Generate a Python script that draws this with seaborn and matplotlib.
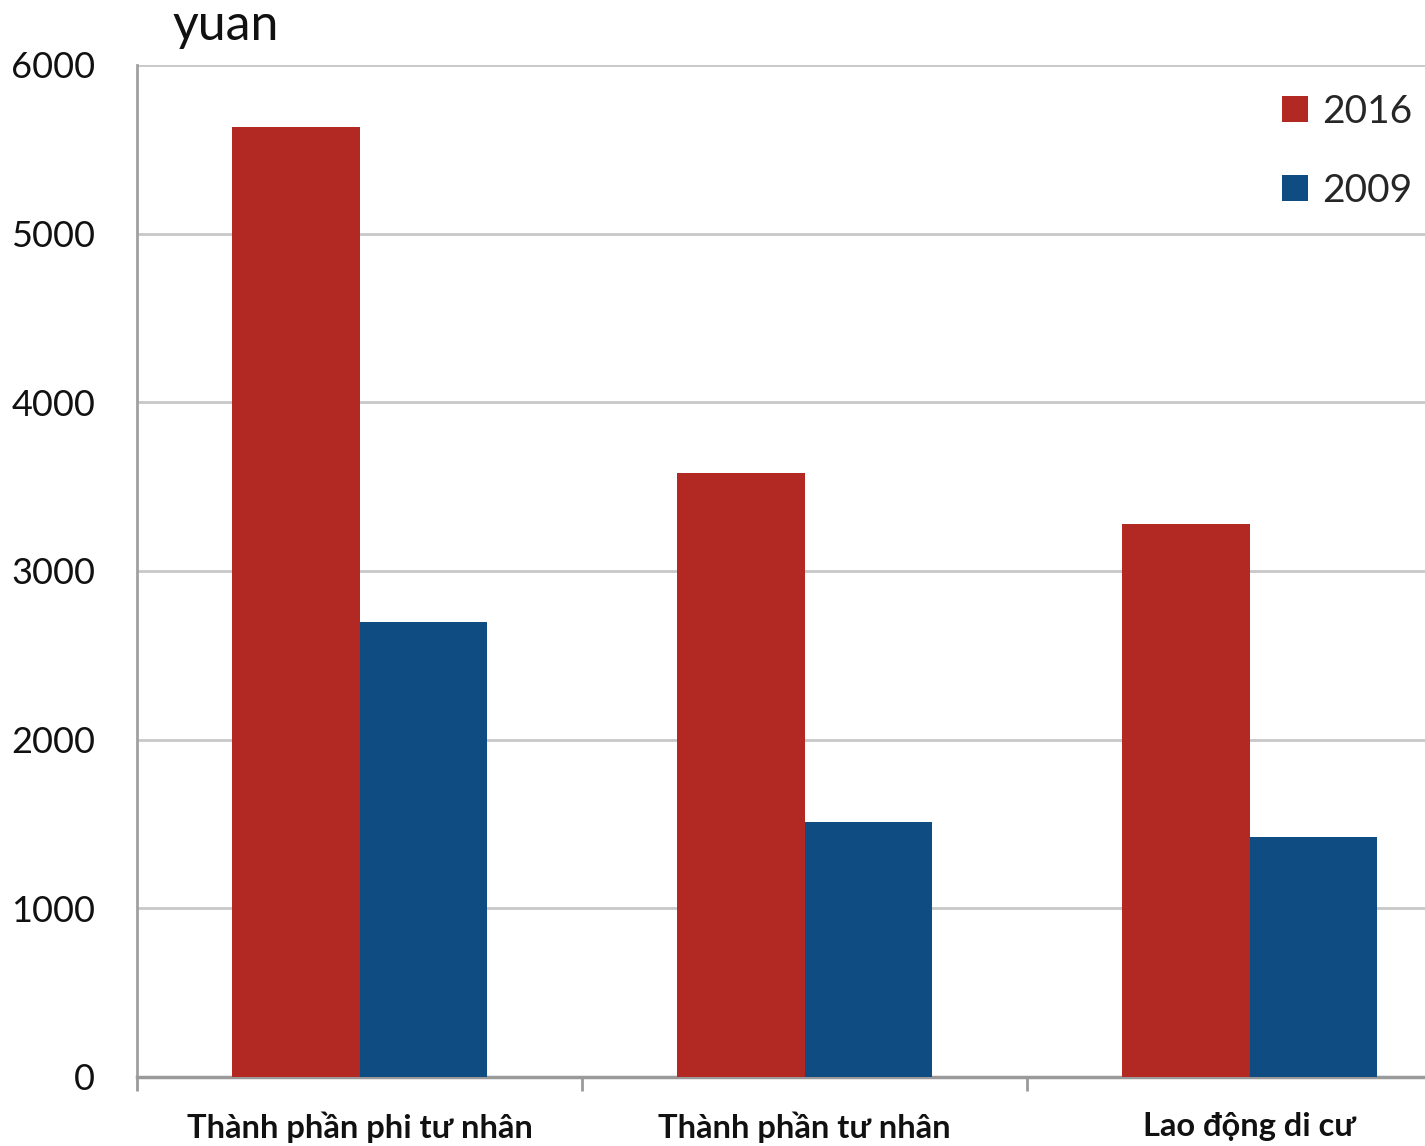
import matplotlib
matplotlib.use("Agg")
import matplotlib.pyplot as plt
import seaborn as sns
import pandas as pd
from matplotlib.patches import Patch

categories = ["Thành phần phi tư nhân", "Thành phần tư nhân", "Lao động di cư"]
years = ["2016", "2009"]
values_2016 = [5630, 3580, 3280]
values_2009 = [2700, 1510, 1420]
yticks = [0, 1000, 2000, 3000, 4000, 5000, 6000]
colors = {"2016": "#B22822", "2009": "#0F4C81"}

df = pd.DataFrame({
    "category": categories * 2,
    "year": ["2016"] * 3 + ["2009"] * 3,
    "value": values_2016 + values_2009,
})

sns.set_theme(style="white")
plt.rcParams["font.family"] = ["Lato", "DejaVu Sans"]

fig = plt.figure(figsize=(14.25, 11.46), dpi=100)
ax = fig.add_axes([137 / 1425, 69 / 1146, 1335 / 1425, 1012 / 1146])

sns.barplot(data=df, x="category", y="value", hue="year", hue_order=years,
            palette=colors, width=0.571, gap=0, saturation=1, ax=ax,
            edgecolor="none", linewidth=0, legend=False, zorder=3)

ax.set_xlim(-0.5, 2.5)
ax.set_ylim(0, 6000)
ax.set_yticks(yticks)
ax.set_yticklabels([str(v) for v in yticks], fontsize=26, color="#111111")
ax.yaxis.grid(True, color="#c8c8c8", linewidth=2, zorder=0)
ax.set_axisbelow(True)
ax.tick_params(axis="y", length=0, pad=30)

ax.set_xticks(range(len(categories)))
ax.set_xticklabels(categories, fontsize=23.5, fontweight="bold", color="#111111")
ax.tick_params(axis="x", which="major", length=0, pad=25)
ax.set_xticks([-0.5, 0.5, 1.5], minor=True)
ax.tick_params(axis="x", which="minor", length=10, width=2, color="#9a9a9a", direction="out", bottom=True)

ax.set_xlabel("")
ax.set_ylabel("")
for s in ["top", "right"]:
    ax.spines[s].set_visible(False)
ax.spines["left"].set_color("#a0a0a0")
ax.spines["left"].set_linewidth(2)
ax.spines["bottom"].set_color("#9a9a9a")
ax.spines["bottom"].set_linewidth(2.5)

fig.text(172 / 1425, 1 - 40 / 1146, "yuan", fontsize=36, color="#111111", va="baseline", ha="left")

handles = [Patch(facecolor=colors[y], edgecolor="none", label=y) for y in years]
fig.legend(handles=handles, loc="upper right", bbox_to_anchor=(1412 / 1425, 1 - 94 / 1146),
           fontsize=28, frameon=False, handlelength=0.66, handleheight=0.66,
           handletextpad=0.35, labelspacing=1.1, borderpad=0, borderaxespad=0)

fig.savefig("out.png", dpi=100)
